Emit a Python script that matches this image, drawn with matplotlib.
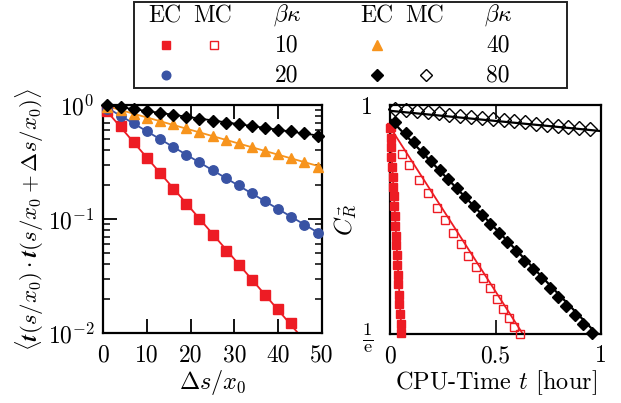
import numpy as np
import matplotlib
matplotlib.use('Agg')
import matplotlib.pyplot as plt
from matplotlib.lines import Line2D
from matplotlib.patches import Rectangle
from matplotlib.ticker import NullLocator

plt.rcParams['font.family'] = ['cmr10', 'DejaVu Serif']
plt.rcParams['mathtext.fontset'] = 'cm'
plt.rcParams['axes.unicode_minus'] = False
plt.rcParams['axes.formatter.use_mathtext'] = True

# ---------------- data: left panel (tangent correlation) ----------------
ds = [1, 4, 7, 10, 13, 16, 19, 22, 25, 28, 31, 34, 37, 40, 43, 46, 49]
corr_bk10 = [0.89, 0.66, 0.478, 0.342, 0.255, 0.184, 0.135, 0.0995, 0.0728,
             0.0527, 0.0392, 0.0289, 0.0217, 0.0163, 0.0123]
corr_bk20 = [0.916, 0.80, 0.692, 0.596, 0.505, 0.431, 0.366, 0.315, 0.270,
             0.231, 0.197, 0.169, 0.143, 0.123, 0.104, 0.088, 0.0753]
corr_bk40 = [0.97, 0.895, 0.83, 0.775, 0.72, 0.675, 0.63, 0.583, 0.538,
             0.495, 0.462, 0.426, 0.392, 0.368, 0.341, 0.314, 0.288]
corr_bk80 = [0.99, 0.963, 0.928, 0.889, 0.853, 0.820, 0.787, 0.757, 0.730,
             0.700, 0.677, 0.648, 0.627, 0.608, 0.589, 0.568, 0.540]

# ---------------- data: right panel (end-to-end autocorrelation) ----------------
t_ec10 = [0.000, 0.003, 0.005, 0.007, 0.010, 0.013, 0.015, 0.017, 0.020, 0.023, 0.025,
          0.027, 0.030, 0.033, 0.035, 0.037, 0.040, 0.043, 0.045, 0.047, 0.050, 0.052]
c_ec10 = [0.905, 0.867, 0.831, 0.796, 0.763, 0.731, 0.700, 0.671, 0.643, 0.616, 0.590,
          0.565, 0.542, 0.519, 0.497, 0.477, 0.457, 0.437, 0.419, 0.402, 0.385, 0.369]
t_mc10 = [0.005, 0.057, 0.092, 0.139, 0.179, 0.225, 0.262, 0.300, 0.337, 0.372,
          0.407, 0.440, 0.473, 0.505, 0.535, 0.562, 0.590, 0.616]
c_mc10 = [0.909, 0.809, 0.770, 0.720, 0.681, 0.638, 0.605, 0.573, 0.544, 0.518,
          0.493, 0.470, 0.449, 0.429, 0.411, 0.395, 0.380, 0.368]
t_ec80 = [0.024, 0.074, 0.115, 0.155, 0.196, 0.236, 0.276, 0.316, 0.356, 0.396, 0.436, 0.476,
          0.516, 0.556, 0.596, 0.636, 0.676, 0.716, 0.756, 0.796, 0.836, 0.876, 0.916, 0.956]
c_ec80 = [0.930, 0.885, 0.850, 0.816, 0.784, 0.754, 0.725, 0.696, 0.669, 0.643, 0.618, 0.594,
          0.571, 0.549, 0.528, 0.507, 0.488, 0.469, 0.450, 0.433, 0.416, 0.400, 0.384, 0.369]
t_mc80 = [0.025, 0.076, 0.128, 0.179, 0.230, 0.281, 0.333, 0.384, 0.435, 0.487,
          0.538, 0.589, 0.640, 0.692, 0.743, 0.794, 0.845, 0.897, 0.948]
c_mc80 = [0.984, 0.978, 0.973, 0.969, 0.964, 0.959, 0.954, 0.950, 0.945, 0.940,
          0.936, 0.931, 0.927, 0.922, 0.918, 0.913, 0.909, 0.904, 0.900]

# exponential fits C(t) = A exp(-t/tau)
fit_ec10 = (0.914, 0.0606)
fit_mc10 = (0.908, 0.697)
fit_ec80 = (0.941, 1.044)
fit_mc80 = (0.975, 11.3)

RED = '#ed1c24'
BLUE = '#3953a4'
ORANGE = '#f7941d'
BLACK = '#000000'

W, H = 621, 403
fig = plt.figure(figsize=(W / 100, H / 100), dpi=100)
axL = fig.add_axes([103 / W, 1 - 333 / H, (322 - 103) / W, (333 - 105) / H])
axR = fig.add_axes([390 / W, 1 - 334 / H, (601 - 390) / W, (334 - 105) / H])

TICK_FS = 17
LABEL_FS = 17.5

# ---------------- left panel ----------------
xfit = np.linspace(0, 50, 200)
for xs, ys, col, mk, ms in [
        (ds[:len(corr_bk10)], corr_bk10, RED, 's', 6.5),
        (ds, corr_bk20, BLUE, 'o', 6.8),
        (ds, corr_bk40, ORANGE, '^', 7.8),
        (ds, corr_bk80, BLACK, 'D', 6.0)]:
    p = np.polyfit(xs, np.log(ys), 1)
    axL.plot(xfit, np.exp(np.polyval(p, xfit)), color=col, lw=1.3, zorder=2)
    axL.plot(xs, ys, linestyle='none', marker=mk, ms=ms, color=col, mec=col,
             clip_on=False, zorder=3)
axL.set_yscale('log')
axL.set_xlim(0, 50)
axL.set_ylim(0.01, 1)
axL.set_xticks([0, 10, 20, 30, 40, 50], ['0', '10', '20', '30', '40', '50'])
axL.set_yticks([1, 0.1, 0.01], [r'$10^0$', r'$10^{-1}$', r'$10^{-2}$'])
axL.tick_params(which='both', direction='in', top=True, right=True, labelsize=TICK_FS)
axL.tick_params(which='major', length=10, width=1.3)
axL.tick_params(which='minor', length=5, width=1.1)
axL.tick_params(axis='x', pad=8)
axL.tick_params(axis='y', pad=6)
axL.set_xlabel(r'$\Delta s/x_0$', fontsize=LABEL_FS, labelpad=1)
axL.set_ylabel(r'$\langle \boldsymbol{t}(s/x_0)\cdot\boldsymbol{t}(s/x_0+\Delta s/x_0)\rangle$',
               fontsize=16.5, labelpad=1)
for sp in axL.spines.values():
    sp.set_linewidth(1.6)

# ---------------- right panel ----------------
tfit = np.linspace(0, 1, 300)
for (A, tau), col, lw in [(fit_ec10, RED, 1.3), (fit_mc10, RED, 1.3),
                          (fit_ec80, BLACK, 1.6), (fit_mc80, BLACK, 1.6)]:
    axR.plot(tfit, A * np.exp(-tfit / tau), color=col, lw=lw, zorder=2)
axR.plot(t_ec10, c_ec10, linestyle='none', marker='s', ms=5.8, color=RED, mec=RED,
         clip_on=False, zorder=3)
axR.plot(t_mc10, c_mc10, linestyle='none', marker='s', ms=5.5, mfc='none', mec=RED,
         mew=1.0, clip_on=False, zorder=3)
axR.plot(t_ec80, c_ec80, linestyle='none', marker='D', ms=6.3, color=BLACK,
         clip_on=False, zorder=3)
axR.plot(t_mc80, c_mc80, linestyle='none', marker='D', ms=7.2, mfc='none', mec=BLACK,
         mew=1.0, clip_on=False, zorder=3)
axR.set_yscale('log')
axR.set_xlim(0, 1)
axR.set_ylim(np.exp(-1), 1)
axR.yaxis.set_minor_locator(NullLocator())
axR.set_xticks([0, 0.5, 1], ['0', '0.5', '1'])
axR.set_yticks([np.exp(-1), 1], [r'$\frac{1}{\mathrm{e}}$', '1'])
axR.tick_params(which='both', direction='in', top=True, right=True, labelsize=TICK_FS)
axR.tick_params(axis='x', length=10, width=1.2, pad=8)
axR.tick_params(axis='y', length=0, pad=12)
axR.get_yticklabels()[0].set_fontsize(19)
axR.set_xlabel(r'CPU-Time $t$ [hour]', fontsize=LABEL_FS, labelpad=1)
axR.set_ylabel(r'$C_{\vec{R}}$', fontsize=LABEL_FS)
axR.yaxis.set_label_coords(-0.15, 0.5)
for sp in axR.spines.values():
    sp.set_linewidth(1.6)

# ---------------- legend (table layout) ----------------
def fx(px):
    return px / W

def fy(py):
    return 1 - py / H

fig.add_artist(Rectangle((fx(134), fy(88)), (567 - 134) / W, (88 - 2) / H,
                         transform=fig.transFigure, fill=False, lw=1.4,
                         edgecolor='#222222'))
leg_fs = 17
for px, txt in [(165, 'EC'), (213, 'MC'), (377, 'EC'), (425, 'MC')]:
    fig.text(fx(px), fy(16), txt, ha='center', va='center', fontsize=leg_fs)
for px in (287, 498):
    fig.text(fx(px), fy(15), r'$\beta\kappa$', ha='center', va='center', fontsize=leg_fs)
for px, py, txt in [(287, 45, '10'), (287, 75, '20'), (498, 45, '40'), (498, 75, '80')]:
    fig.text(fx(px), fy(py), txt, ha='center', va='center', fontsize=leg_fs)

legend_marks = [
    (166, 45, dict(marker='s', ms=5.8, color=RED, mec=RED)),
    (214, 45, dict(marker='s', ms=5.8, mfc='none', mec=RED, mew=1.0)),
    (377, 45, dict(marker='^', ms=7.0, color=ORANGE, mec=ORANGE)),
    (166, 75, dict(marker='o', ms=6.2, color=BLUE, mec=BLUE)),
    (377, 75, dict(marker='D', ms=5.8, color=BLACK)),
    (426, 75, dict(marker='D', ms=5.8, mfc='white', mec=BLACK, mew=1.0)),
]
for px, py, kw in legend_marks:
    fig.add_artist(Line2D([fx(px)], [fy(py)], transform=fig.transFigure,
                          linestyle='none', **kw))

fig.savefig('out.png', dpi=100)
